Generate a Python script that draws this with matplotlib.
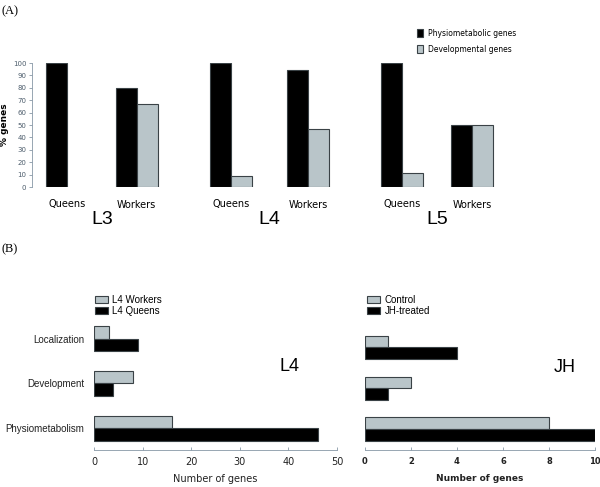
import numpy as np
import matplotlib.pyplot as plt

# Panel A data
stages = ["L3", "L4", "L5"]
castes = ["Queens", "Workers", "Queens", "Workers", "Queens", "Workers"]
physio_pct = [100, 80, 100, 94, 100, 50]
devel_pct = [0, 66.7, 9, 47, 11, 50]

# Panel B data
categories = ["Physiometabolism", "Development", "Localization"]
l4_workers = [16, 8, 3]
l4_queens = [46, 4, 9]
jh_control = [8, 2, 1]
jh_treated = [10, 1, 4]

GREY = "#b9c5c9"
EDGE = "#3a4246"
AXC = "#8797a6"
narrow = ["Liberation Sans Narrow", "DejaVu Sans"]

fig = plt.figure(figsize=(6, 4.87), dpi=100)
W, H = 600, 487

def px_axes(x0, y0, x1, y1):
    # pixel box (top-left origin) -> figure axes
    return fig.add_axes([x0 / W, 1 - y1 / H, (x1 - x0) / W, (y1 - y0) / H])

# ---------------- (A) ----------------
fig.text(2 / W, 1 - 11 / H, "(A)", family="Liberation Serif", fontsize=9, va="center")
axA = px_axes(32, 63, 500, 187)
pos = np.array([0, 1, 2.35, 3.45, 4.8, 5.8])
bw = 0.3
axA.bar(pos - bw / 2, physio_pct, bw, color="black", edgecolor=EDGE, linewidth=0.8,
        label="Physiometabolic genes")
dev = axA.bar(pos + bw / 2, devel_pct, bw, color=GREY, edgecolor=EDGE, linewidth=0.8,
              label="Developmental genes")
for b, v in zip(dev, devel_pct):
    if v == 0:
        b.set_linewidth(0)
axA.set_xlim(-0.5, 6.2)
axA.set_ylim(0, 100)
axA.set_yticks(np.arange(0, 101, 10))
axA.tick_params(axis="y", labelsize=5, colors=AXC, labelcolor="#4d5d6c", length=2.5, width=0.6, pad=1.5)
axA.tick_params(axis="x", length=0, pad=9)
axA.set_xticks(pos)
axA.set_xticklabels(castes, fontsize=7, family=narrow)
for s in ["top", "right", "bottom"]:
    axA.spines[s].set_visible(False)
axA.spines["left"].set_color(AXC)
axA.spines["left"].set_linewidth(0.6)
axA.set_ylabel("% genes", fontsize=6.5, fontweight="bold", family=narrow, labelpad=3)
for i, st in enumerate(stages):
    axA.text((pos[2 * i] + pos[2 * i + 1]) / 2, -0.26, st, transform=axA.get_xaxis_transform(),
             ha="center", va="center", fontsize=14, family="Liberation Sans")
legA = axA.legend(loc="upper left", bbox_to_anchor=(410 / W, 1 - 22 / H), bbox_transform=fig.transFigure,
                  frameon=False, prop={"family": narrow, "size": 5.5}, handlelength=0.8, handleheight=1.3,
                  handletextpad=0.6, labelspacing=0.9)
for hnd in legA.legend_handles:
    hnd.set_linewidth(0.8)
    hnd.set_edgecolor(EDGE)

# ---------------- (B) ----------------
fig.text(2 / W, 1 - 249 / H, "(B)", family="Liberation Serif", fontsize=9, va="center")

def hbars(ax, grey_vals, black_vals, grey_lab, black_lab, bh):
    y = np.arange(len(categories))
    ax.barh(y + bh / 2, grey_vals, bh, color=GREY, edgecolor=EDGE, linewidth=0.8, label=grey_lab)
    ax.barh(y - bh / 2, black_vals, bh, color="black", edgecolor=EDGE, linewidth=0.8, label=black_lab)
    for s in ["top", "right", "left"]:
        ax.spines[s].set_visible(False)
    ax.spines["bottom"].set_color(AXC)
    ax.spines["bottom"].set_linewidth(0.6)
    ax.tick_params(axis="x", direction="in", colors=AXC, length=2.5, width=0.6, pad=5)
    ax.tick_params(axis="y", length=0)
    return y

axL = px_axes(94, 323, 337, 450)
y = hbars(axL, l4_workers, l4_queens, "L4 Workers", "L4 Queens", 0.28)
axL.set_xlim(0, 50)
axL.set_ylim(-0.49, 2.35)
axL.set_yticks(y)
axL.set_yticklabels(categories, fontsize=7, color="#222222", family="Liberation Sans")
axL.tick_params(axis="y", pad=7)
for lab in axL.get_xticklabels():
    lab.set_color("#222222")
    lab.set_fontsize(7)
axL.set_xlabel("Number of genes", fontsize=7, color="#222222", labelpad=5)
axL.text(40.3, 1.37, "L4", fontsize=13, ha="center", va="center", family="Liberation Sans")
axL.legend(loc="upper left", bbox_to_anchor=(90 / W, 1 - 290 / H), bbox_transform=fig.transFigure,
           frameon=False, prop={"family": "Liberation Sans", "size": 7}, handlelength=1.3,
           handleheight=0.8, handletextpad=0.5, labelspacing=0.1, borderpad=0)

axR = px_axes(365, 333, 595, 450)
hbars(axR, jh_control, jh_treated, "Control", "JH-treated", 0.285)
axR.set_xlim(0, 10)
axR.set_ylim(-0.51, 2.35)
axR.set_yticks([])
axR.set_xticks(np.arange(0, 11, 2))
for lab in axR.get_xticklabels():
    lab.set_color("#222222")
    lab.set_fontsize(6)
    lab.set_fontweight("bold")
axR.set_xlabel("Number of genes", fontsize=6.5, fontweight="bold", family=narrow,
               color="#222222", labelpad=6)
axR.text(8.7, 1.5, "JH", fontsize=13, ha="center", va="center", family="Liberation Sans")
axR.legend(loc="upper left", bbox_to_anchor=(362 / W, 1 - 290 / H), bbox_transform=fig.transFigure,
           frameon=False, prop={"family": "Liberation Sans", "size": 7}, handlelength=1.3,
           handleheight=0.8, handletextpad=0.5, labelspacing=0.1, borderpad=0)

fig.savefig("out.png", dpi=100)
